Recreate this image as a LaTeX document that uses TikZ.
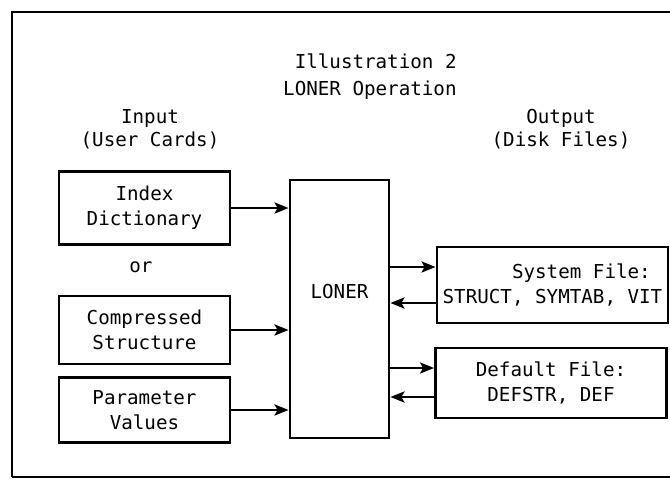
\documentclass[tikz,border=0pt]{standalone}
\usepackage{fontspec}
\setmonofont{DejaVu Sans Mono}
\usetikzlibrary{arrows.meta,positioning}

\begin{document}
\begin{tikzpicture}[x=0.5pt,y=-0.5pt,->,>={Stealth[length=7pt,width=5.5pt,inset=1.5pt]},line width=1.4pt,
	font=\ttfamily\fontsize{9.6}{12.5}\selectfont,
	cardnode/.style={rectangle,draw,minimum width=85.5pt,align=center,inner sep=0pt},
	filenode/.style={rectangle,draw,minimum width=115.5pt,inner sep=0pt},
	textnode/.style={align=center,inner sep=0pt}]

	\useasboundingbox (0,0) rectangle (670,479);
	\draw[-,line width=1pt] (12,477) -- (12,12) -- (675,12) (12,477) -- (675,477);

	\node [textnode,align=right,anchor=east,font=\ttfamily\fontsize{9.6}{13.5}\selectfont] (title) at (458,77) {Illustration 2\\LONER Operation};
	\node [textnode,font=\ttfamily\fontsize{9.6}{11.5}\selectfont] (input) at (150,129) {Input\\(User Cards)};
	\node [textnode,font=\ttfamily\fontsize{9.6}{11.5}\selectfont] (output) at (561,129) {Output\\(Disk Files)};

	\node [cardnode,minimum height=36.5pt] (index) at (144.5,208) {Index\\Dictionary};
	\node [textnode] (or) at (141,267) {or};
	\node [cardnode,minimum height=34pt] (compr) at (144.5,330) {Compressed\\Structure};
	\node [cardnode,minimum height=32.5pt] (param) at (144.5,410) {Parameter\\Values};

	\node [rectangle,draw,minimum width=49.5pt,minimum height=129pt] (loner) at (339.5,309) {};
	\node [textnode] (lonerlabel) at (339.5,291) {LONER};

	\node [filenode,minimum height=38pt,align=right] (system) at (552.5,285) {System File:\hphantom{T}\\STRUCT, SYMTAB, VIT};
	\node [filenode,minimum height=35pt,align=center] (default) at (551,383) {Default File:\\DEFSTR, DEF};

	\draw (index) to (index -| loner.west);
	\draw (compr) to (compr -| loner.west);
	\draw (param) to (param -| loner.west);

	\draw ([yshift=9pt]system.west -| loner.east) to ([yshift=9pt]system.west);
	\draw ([yshift=-9pt]system.west) to ([yshift=-9pt]system.west -| loner.east);
	\draw ([yshift=7.5pt]default.west -| loner.east) to ([yshift=7.5pt]default.west);
	\draw ([yshift=-7pt]default.west) to ([yshift=-7pt]default.west -| loner.east);
\end{tikzpicture}
\end{document}
